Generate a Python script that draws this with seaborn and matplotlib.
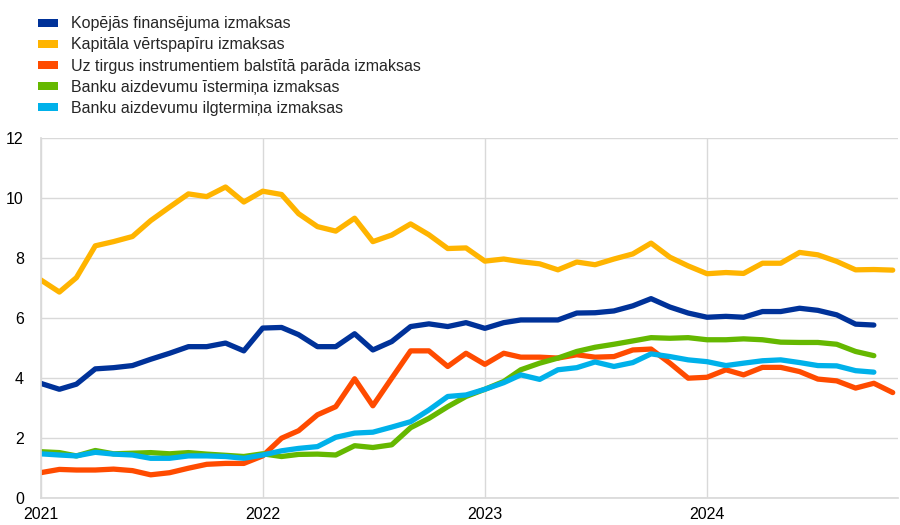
import pandas as pd
import numpy as np
import matplotlib
matplotlib.use('Agg')
import matplotlib.pyplot as plt
import matplotlib.dates as mdates
from matplotlib.patches import Patch
import seaborn as sns

# monthly data, Jan 2021 onwards
kopejas = [3.83, 3.63, 3.80, 4.31, 4.35, 4.42, 4.63, 4.83, 5.05, 5.05, 5.17, 4.91,
           5.67, 5.69, 5.45, 5.05, 5.05, 5.48, 4.94, 5.22, 5.72, 5.81, 5.72, 5.85,
           5.66, 5.85, 5.94, 5.94, 5.94, 6.17, 6.18, 6.24, 6.41, 6.65, 6.37, 6.17,
           6.03, 6.06, 6.03, 6.22, 6.22, 6.33, 6.26, 6.11, 5.80, 5.77]
kapitala = [7.28, 6.87, 7.35, 8.41, 8.55, 8.72, 9.25, 9.70, 10.14, 10.05, 10.37, 9.87,
            10.23, 10.12, 9.48, 9.05, 8.90, 9.33, 8.55, 8.77, 9.14, 8.78, 8.32, 8.34,
            7.90, 7.97, 7.88, 7.81, 7.61, 7.87, 7.78, 7.97, 8.14, 8.50, 8.03, 7.74,
            7.48, 7.52, 7.49, 7.83, 7.83, 8.19, 8.11, 7.89, 7.61, 7.62, 7.60]
parada = [0.85, 0.96, 0.94, 0.94, 0.97, 0.92, 0.78, 0.85, 1.00, 1.13, 1.16, 1.16,
          1.41, 2.00, 2.25, 2.78, 3.05, 3.98, 3.08, 4.00, 4.91, 4.91, 4.39, 4.83,
          4.46, 4.83, 4.70, 4.70, 4.67, 4.78, 4.70, 4.72, 4.94, 4.97, 4.50, 4.00,
          4.03, 4.28, 4.11, 4.36, 4.36, 4.22, 3.97, 3.91, 3.67, 3.83, 3.52]
istermina = [1.55, 1.52, 1.41, 1.59, 1.48, 1.50, 1.52, 1.48, 1.52, 1.47, 1.43, 1.39,
             1.48, 1.39, 1.46, 1.47, 1.44, 1.75, 1.69, 1.78, 2.35, 2.66, 3.05, 3.39,
             3.63, 3.89, 4.28, 4.50, 4.67, 4.89, 5.03, 5.13, 5.24, 5.35, 5.33, 5.35,
             5.28, 5.28, 5.31, 5.28, 5.20, 5.19, 5.19, 5.13, 4.89, 4.75]
ilgtermina = [1.48, 1.44, 1.41, 1.53, 1.47, 1.44, 1.33, 1.33, 1.41, 1.41, 1.39, 1.33,
              1.44, 1.58, 1.66, 1.72, 2.03, 2.17, 2.20, 2.37, 2.55, 2.94, 3.39, 3.44,
              3.63, 3.85, 4.11, 3.96, 4.28, 4.35, 4.54, 4.39, 4.52, 4.81, 4.72, 4.61,
              4.55, 4.42, 4.50, 4.58, 4.61, 4.52, 4.42, 4.41, 4.25, 4.20]

labels = ['Kopējās finansējuma izmaksas',
          'Kapitāla vērtspapīru izmaksas',
          'Uz tirgus instrumentiem balstītā parāda izmaksas',
          'Banku aizdevumu īstermiņa izmaksas',
          'Banku aizdevumu ilgtermiņa izmaksas']
colors = ['#003299', '#FFB400', '#FF4B00', '#65B800', '#00B1EA']
series = [kopejas, kapitala, parada, istermina, ilgtermina]

rows = []
for name, vals in zip(labels, series):
    dates = pd.date_range('2021-01-01', periods=len(vals), freq='MS')
    rows.append(pd.DataFrame({'date': dates, 'value': vals, 'series': name}))
df = pd.concat(rows, ignore_index=True)

sns.set_theme(style='whitegrid')
plt.rcParams['font.family'] = ['Liberation Sans', 'DejaVu Sans']

fig = plt.figure(figsize=(9, 5.25), dpi=100)
ax = fig.add_axes([0.045, 0.051, 0.953, 0.686])

sns.lineplot(data=df, x='date', y='value', hue='series', hue_order=labels,
             palette=colors, linewidth=3.8, ax=ax, legend=False)

ax.set_xlim(pd.Timestamp('2021-01-01'), pd.Timestamp('2024-11-10'))
ax.set_ylim(0, 12)
ax.set_yticks(range(0, 13, 2))
ax.xaxis.set_major_locator(mdates.YearLocator())
ax.xaxis.set_major_formatter(mdates.DateFormatter('%Y'))
ax.set_xlabel('')
ax.set_ylabel('')
ax.grid(True, color='#d9d9d9', linewidth=1)
for s in ['top', 'right']:
    ax.spines[s].set_visible(False)
for s in ['left', 'bottom']:
    ax.spines[s].set_color('#d9d9d9')
ax.tick_params(axis='both', labelsize=11.5, colors='black', length=0)
ax.tick_params(axis='y', pad=12)
ax.tick_params(axis='x', pad=6)

handles = [Patch(facecolor=c, edgecolor='none') for c in colors]
fig.legend(handles, labels, loc='upper left', bbox_to_anchor=(0.03, 0.99),
           frameon=False, fontsize=11.5, handlelength=1.25, handleheight=0.4,
           labelspacing=0.38, handletextpad=0.8, borderaxespad=0.3)

fig.savefig('out.png', dpi=100)
